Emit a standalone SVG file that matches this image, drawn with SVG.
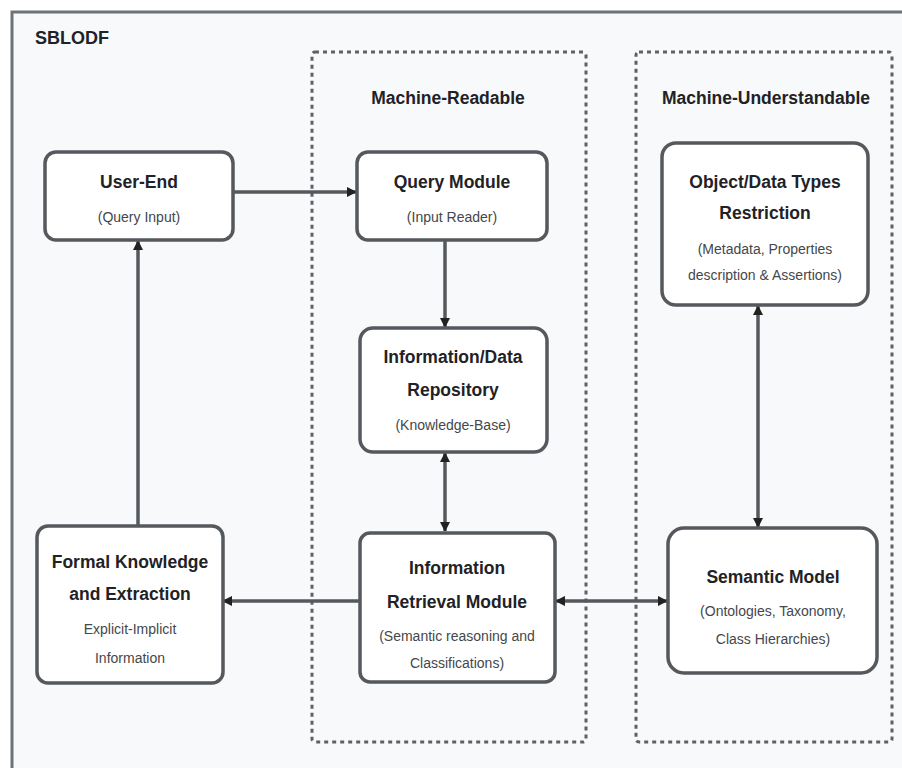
<svg xmlns="http://www.w3.org/2000/svg" width="902" height="768" viewBox="0 0 902 768">
<style>
.frame{fill:#f7f9fb;stroke:#6f7275;stroke-width:3}
.zone{fill:none;stroke:#5e6166;stroke-width:3;stroke-dasharray:4 4}
.node{fill:#ffffff;stroke:#55585c;stroke-width:3.5}
.t{font-family:"Liberation Sans",Arial,sans-serif;font-weight:bold;font-size:17.5px;fill:#1f2226;text-anchor:middle}
.s{font-family:"Liberation Sans",Arial,sans-serif;font-size:14px;fill:#44474b;text-anchor:middle}
.h{font-family:"Liberation Sans",Arial,sans-serif;font-weight:bold;font-size:17.5px;fill:#1f2226;text-anchor:middle}
.c{fill:none;stroke:#55585c;stroke-width:3.5}
</style>
<defs>
<marker id="arr" viewBox="0 0 10 10" refX="9" refY="5" markerWidth="3" markerHeight="3" orient="auto-start-reverse">
<path d="M0,0 L10,5 L0,10 z" fill="#222"/>
</marker>
</defs>
<rect width="902" height="768" fill="#ffffff"/>
<rect class="frame" x="12" y="12" width="905" height="775"/>
<text x="35" y="44" font-family="Liberation Sans,Arial,sans-serif" font-weight="bold" font-size="18" fill="#1f2226">SBLODF</text>
<g id="zone-readable">
<rect class="zone" x="312" y="52" width="274" height="690" rx="3"/>
<text class="h" x="448" y="104">Machine-Readable</text>
</g>
<g id="zone-understandable">
<rect class="zone" x="636" y="52" width="256" height="690" rx="3"/>
<text class="h" x="766" y="104">Machine-Understandable</text>
</g>
<g id="connectors">
<line class="c" x1="233" y1="192" x2="356" y2="192" marker-end="url(#arr)"/>
<line class="c" x1="445" y1="240" x2="445" y2="327" marker-end="url(#arr)"/>
<line class="c" x1="445" y1="453" x2="445" y2="531" marker-start="url(#arr)" marker-end="url(#arr)"/>
<line class="c" x1="360" y1="601" x2="223" y2="601" marker-end="url(#arr)"/>
<line class="c" x1="556" y1="601" x2="667" y2="601" marker-start="url(#arr)" marker-end="url(#arr)"/>
<line class="c" x1="758" y1="306" x2="758" y2="527" marker-start="url(#arr)" marker-end="url(#arr)"/>
<line class="c" x1="138" y1="525" x2="138" y2="241" marker-end="url(#arr)"/>
</g>
<g id="user-end">
<rect class="node" x="45" y="152" width="188" height="88" rx="11"/>
<text class="t" x="139" y="188">User-End</text>
<text class="s" x="139" y="222">(Query Input)</text>
</g>
<g id="query-module">
<rect class="node" x="357" y="152" width="190" height="88" rx="11"/>
<text class="t" x="452" y="188">Query Module</text>
<text class="s" x="452" y="222">(Input Reader)</text>
</g>
<g id="object-data-types">
<rect class="node" x="662" y="143" width="206" height="162" rx="14"/>
<text class="t" x="765" y="188">Object/Data Types</text>
<text class="t" x="765" y="219">Restriction</text>
<text class="s" x="765" y="254">(Metadata, Properties</text>
<text class="s" x="765" y="280">description &amp; Assertions)</text>
</g>
<g id="repository">
<rect class="node" x="360" y="328" width="187" height="124" rx="13"/>
<text class="t" x="453" y="363">Information/Data</text>
<text class="t" x="453" y="396">Repository</text>
<text class="s" x="453" y="430">(Knowledge-Base)</text>
</g>
<g id="retrieval">
<rect class="node" x="360" y="533" width="195" height="149" rx="10"/>
<text class="t" x="457" y="574">Information</text>
<text class="t" x="457" y="608">Retrieval Module</text>
<text class="s" x="457" y="641">(Semantic reasoning and</text>
<text class="s" x="457" y="668">Classifications)</text>
</g>
<g id="formal-knowledge">
<rect class="node" x="37" y="526" width="186" height="157" rx="11"/>
<text class="t" x="130" y="568">Formal Knowledge</text>
<text class="t" x="130" y="600">and Extraction</text>
<text class="s" x="130" y="634">Explicit-Implicit</text>
<text class="s" x="130" y="663">Information</text>
</g>
<g id="semantic-model">
<rect class="node" x="668" y="528" width="209" height="145" rx="16"/>
<text class="t" x="773" y="583">Semantic Model</text>
<text class="s" x="773" y="616">(Ontologies, Taxonomy,</text>
<text class="s" x="773" y="644">Class Hierarchies)</text>
</g>
</svg>
